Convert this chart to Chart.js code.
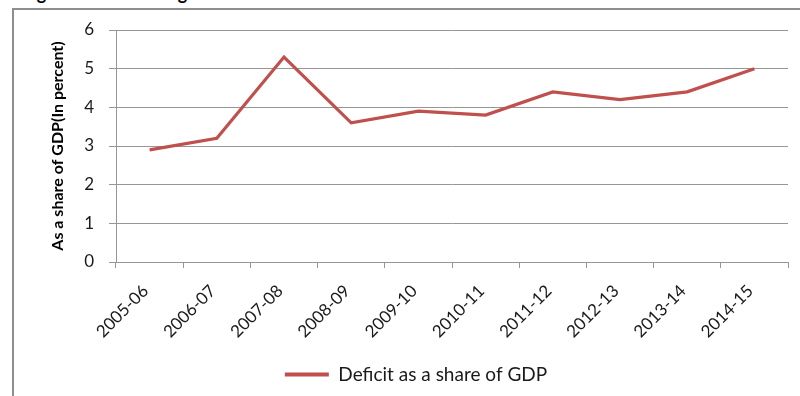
<!DOCTYPE html>
<html>
<head>
<meta charset="utf-8">
<script src="https://cdn.jsdelivr.net/npm/chart.js@4.4.0/dist/chart.umd.min.js"></script>
<style>
  html, body { margin: 0; padding: 0; background: #fff; overflow: hidden; }
  #wrap { position: relative; width: 800px; height: 396px; }
  #frame { position: absolute; left: 12px; top: 8px; right: -4px; bottom: -4px;
           border-top: 2px solid #8e8e8e; border-left: 2px solid #8e8e8e; }
  #heading { position: absolute; left: 22px; top: -15px; font: bold 18px Lato, sans-serif;
             color: #000; white-space: nowrap; line-height: 17px; }
  canvas { position: absolute; left: 0; top: 0; }
</style>
</head>
<body>
<div id="wrap">
  <div id="heading">Figure 2: Fiscal Budget Deficit</div>
  <div id="frame"></div>
  <canvas id="c" width="800" height="396"></canvas>
</div>
<script>
// Fiscal years on the category axis
const years = ['2005-06', '2006-07', '2007-08', '2008-09', '2009-10',
               '2010-11', '2011-12', '2012-13', '2013-14', '2014-15'];
// Deficit as a share of GDP, percent
const deficit = [2.9, 3.2, 5.3, 3.6, 3.9, 3.8, 4.4, 4.2, 4.4, 5.0];
// Value axis range and step
const yMin = 0, yMax = 6, yStep = 1;

const red = '#C0504D';
const grid = '#969696';
const textColor = '#1a1a1a';

new Chart(document.getElementById('c'), {
  type: 'line',
  data: {
    labels: years,
    datasets: [{
      label: 'Deficit as a share of GDP',
      data: deficit,
      borderColor: red,
      backgroundColor: red,
      borderWidth: 3.2,
      pointRadius: 0,
      tension: 0,
      fill: false
    }]
  },
  options: {
    responsive: false,
    animation: false,
    devicePixelRatio: 1,
    layout: { padding: { left: 44, right: 12, top: 30, bottom: 2 } },
    plugins: {
      tooltip: { enabled: false },
      legend: {
        position: 'bottom',
        labels: {
          font: { family: 'Lato', size: 19 },
          color: textColor,
          boxWidth: 44,
          boxHeight: 4,
          padding: 10,
          generateLabels(chart) {
            return chart.data.datasets.map((ds, i) => ({
              text: ds.label, fillStyle: ds.borderColor, strokeStyle: ds.borderColor,
              lineWidth: 0, hidden: false, datasetIndex: i, fontColor: textColor
            }));
          }
        }
      }
    },
    scales: {
      x: {
        offset: true,
        grid: { offset: true, drawOnChartArea: false, drawTicks: true, tickLength: 6, color: grid, lineWidth: 1 },
        border: { color: grid, width: 1 },
        ticks: { maxRotation: 45, minRotation: 45, autoSkip: false, padding: 13, labelOffset: -4,
                 font: { family: 'Lato', size: 17 }, color: textColor },
        afterFit(scale) { scale.height = 93; }
      },
      y: {
        min: yMin, max: yMax,
        grid: { color: grid, lineWidth: 1, tickLength: 7 },
        border: { color: grid, width: 1 },
        ticks: { stepSize: yStep, padding: 15, font: { family: 'Lato', size: 17 }, color: textColor },
        title: { display: true, text: 'As a share of GDP(In percent)',
                 font: { family: 'Lato', size: 16, weight: 'bold' }, color: '#000', padding: { top: 4, bottom: 0 } },
        afterFit(scale) { scale.width = 72; }
      }
    }
  }
});
</script>
</body>
</html>
